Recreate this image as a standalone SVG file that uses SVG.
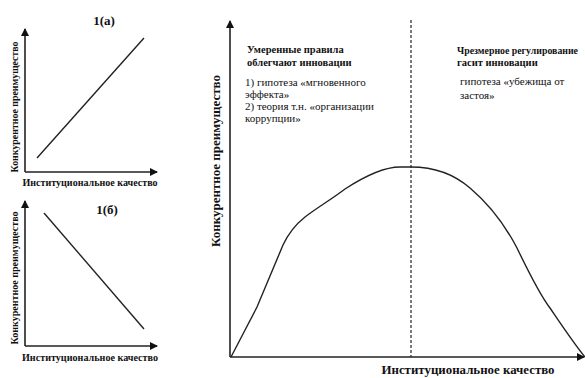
<svg xmlns="http://www.w3.org/2000/svg" width="585" height="378" viewBox="0 0 585 378">
<style>
.ax{stroke:#222;stroke-width:1.6;fill:none}
.ln{stroke:#222;stroke-width:1.4;fill:none}
text{font-family:"Liberation Serif","DejaVu Serif",serif;fill:#111}
.b{font-weight:bold}
.r{font-size:11px}
.sm{font-size:10px}
.tt{font-size:13px}
.bl{font-size:10.5px}
.big{font-size:13px}
</style>
<defs>
<marker id="ar" markerWidth="8" markerHeight="8" refX="7" refY="4" orient="auto" markerUnits="userSpaceOnUse">
<path d="M0,0 L8,4 L0,8 Z" fill="#111"/>
</marker>
</defs>
<rect width="585" height="378" fill="#fff"/>
<g id="panel-a">
<path class="ax" d="M25,172 L25,29" marker-end="url(#ar)"/>
<path class="ax" d="M25,172 L157,172" marker-end="url(#ar)"/>
<path class="ln" d="M37,158 L144,38"/>
<text class="b tt" x="104" y="25" text-anchor="middle">1(a)</text>
<text class="b sm" transform="translate(18,107) rotate(-90)" text-anchor="middle" textLength="131" lengthAdjust="spacingAndGlyphs">Конкурентное преимущество</text>
<text class="b sm" x="90" y="186" text-anchor="middle" textLength="135" lengthAdjust="spacingAndGlyphs">Институциональное качество</text>
</g>
<g id="panel-b">
<path class="ax" d="M25,346 L25,201" marker-end="url(#ar)"/>
<path class="ax" d="M25,346 L157,346" marker-end="url(#ar)"/>
<path class="ln" d="M44,213 L144,329"/>
<text class="b tt" x="107" y="214" text-anchor="middle">1(б)</text>
<text class="b sm" transform="translate(18,278) rotate(-90)" text-anchor="middle" textLength="133" lengthAdjust="spacingAndGlyphs">Конкурентное преимущество</text>
<text class="b sm" x="90" y="361" text-anchor="middle" textLength="136" lengthAdjust="spacingAndGlyphs">Институциональное качество</text>
</g>
<g id="main">
<text class="b big" transform="translate(220,161) rotate(-90)" text-anchor="middle" textLength="172" lengthAdjust="spacingAndGlyphs">Конкурентное преимущество</text>
<text class="b big" x="468" y="374" text-anchor="middle" textLength="173" lengthAdjust="spacingAndGlyphs">Институциональное качество</text>
<text class="b bl" x="247" y="53">Умеренные правила</text>
<text class="b bl" x="247" y="66">облегчают инновации</text>
<text class="r" x="245" y="86">1) гипотеза «мгновенного</text>
<text class="r" x="245" y="98">эффекта»</text>
<text class="r" x="245" y="110">2) теория т.н. «организации</text>
<text class="r" x="245" y="122">коррупции»</text>
<text class="b bl" x="457" y="54" textLength="121" lengthAdjust="spacingAndGlyphs">Чрезмерное регулирование</text>
<text class="b bl" x="457" y="66">гасит инновации</text>
<text class="r" x="460" y="85">гипотеза «убежища от</text>
<text class="r" x="460" y="99">застоя»</text>
</g>
<g id="connectors">
<path class="ax" d="M230,357 L230,21" marker-end="url(#ar)"/>
<path class="ax" d="M230,357 L584,357" marker-end="url(#ar)"/>
<path stroke="#222" stroke-width="1.2" stroke-dasharray="3,2" d="M411,20 L411,357"/>
<path class="ln" d="M231,357 L257,307 L283,245 C289,232 295,225 305,217 C318,207 332,199 345,189 C365,176 385,167 400,167 L411,167 C435,167 455,175 470,188 C490,205 505,225 517,248 C530,275 540,295 550,308 C565,330 575,345 585,357"/>
</g>
</svg>
